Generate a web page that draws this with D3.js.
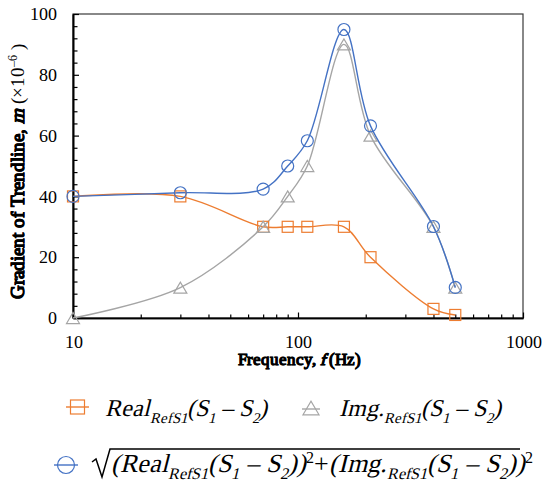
<!DOCTYPE html>
<html>
<head>
<meta charset="utf-8">
<script src="https://cdn.jsdelivr.net/npm/d3@7"></script>
<style>
  @font-face { font-family: "TSerif"; src: local("Liberation Serif"), local("LiberationSerif"), local("LiberationSerif-Regular"); font-style: normal; font-weight: 400; }
  html, body { margin: 0; padding: 0; background: #fff; }
  svg { display: block; }
</style>
</head>
<body>
<svg id="chart" width="543" height="488"></svg>
<script>
// ---- data ----
const frequencies = [10, 30, 70, 90, 110, 160, 210, 400, 500];
const realValues  = [40, 40, 30, 30, 30, 30, 20, 3, 1];
const imgValues   = [0, 10, 30, 40, 50, 90, 60, 30, 10];
const magValues   = [40, 41.2, 42.4, 50, 58.3, 94.9, 63.2, 30.1, 10.05];
const xMajorTicks = [10, 100, 1000];
const xMinorTicks = [20, 30, 40, 50, 60, 70, 80, 90, 200, 300, 400, 500, 600, 700, 800, 900];
const yMajorTicks = [0, 20, 40, 60, 80, 100];
const yMinorTicks = [4, 8, 12, 16, 24, 28, 32, 36, 44, 48, 52, 56, 64, 68, 72, 76, 84, 88, 92, 96];

const colors = { real: "#ED7D31", img: "#A5A5A5", mag: "#4472C4" };
const SERIF = "TSerif, 'Liberation Serif', serif";

const svg = d3.select("#chart");
const L = 73, R = 523, T = 14, B = 318;
const x = d3.scaleLog().domain([10, 1000]).range([L, R]);
const y = d3.scaleLinear().domain([0, 100]).range([B, T]);

// frame
svg.append("rect").attr("x", L).attr("y", T).attr("width", R - L).attr("height", B - T)
  .attr("fill", "none").attr("stroke", "#3a3a3a").attr("stroke-width", 1.2);

function styleAxis(g) {
  g.attr("font-family", null);
  g.selectAll("path.domain").attr("stroke", "#000").attr("stroke-width", 1.6);
  g.selectAll("line").attr("stroke", "#000").attr("stroke-width", 1.2);
  g.selectAll("text").attr("font-size", 18).attr("fill", "#000").style("font-family", SERIF);
}

// x axis
const gxMinor = svg.append("g").attr("transform", `translate(0,${B})`)
  .call(d3.axisBottom(x).tickValues(xMinorTicks).tickSize(-3.5).tickSizeOuter(0).tickFormat(() => ""));
const gxMajor = svg.append("g").attr("transform", `translate(0,${B})`)
  .call(d3.axisBottom(x).tickValues(xMajorTicks).tickSize(-5.5).tickSizeOuter(0)
    .tickPadding(17).tickFormat(d => String(d)));
styleAxis(gxMinor); styleAxis(gxMajor);

// y axis
const gyMinor = svg.append("g").attr("transform", `translate(${L},0)`)
  .call(d3.axisLeft(y).tickValues(yMinorTicks).tickSize(-4.5).tickSizeOuter(0).tickFormat(() => ""));
const gyMajor = svg.append("g").attr("transform", `translate(${L},0)`)
  .call(d3.axisLeft(y).tickValues(yMajorTicks).tickSize(-6).tickSizeOuter(0)
    .tickPadding(16).tickFormat(d => String(d)));
styleAxis(gyMinor); styleAxis(gyMajor);

// axis titles
const xt = svg.append("text").attr("x", 299).attr("y", 365).attr("text-anchor", "middle")
  .attr("font-size", 16.5).attr("font-weight", "bold").style("font-family", SERIF)
  .attr("stroke", "#000").attr("stroke-width", 0.4);
xt.append("tspan").text("Frequency, ");
xt.append("tspan").attr("font-style", "italic").text("f");
xt.append("tspan").text(" (Hz)");

const yt = svg.append("text").attr("transform", "translate(24,171) rotate(-90)")
  .attr("text-anchor", "middle").attr("font-size", 19).attr("font-weight", "bold")
  .style("font-family", SERIF).attr("stroke", "#000").attr("stroke-width", 0.4);
yt.append("tspan").text("Gradient of  Trendline, ");
yt.append("tspan").attr("font-style", "italic").text("m");
yt.append("tspan").attr("font-weight", "normal").attr("stroke-width", 0).text(" (\u00d710");
yt.append("tspan").attr("font-weight", "normal").attr("stroke-width", 0).attr("font-size", 12).attr("dy", -7).text("\u20136");
yt.append("tspan").attr("font-weight", "normal").attr("stroke-width", 0).attr("dy", 7).text(" )");

// series
const line = d3.line().x(d => x(d[0])).y(d => y(d[1])).curve(d3.curveCatmullRom.alpha(0.5));
const series = [
  { key: "real", vals: realValues, shape: "square" },
  { key: "img", vals: imgValues, shape: "triangle" },
  { key: "mag", vals: magValues, shape: "circle" }
];

function drawMarker(g, shape, cx, cy, size, color) {
  if (shape === "square") {
    g.append("rect").attr("x", cx - size / 2).attr("y", cy - size / 2)
      .attr("width", size).attr("height", size)
      .attr("fill", "none").attr("stroke", color).attr("stroke-width", 1.2);
  } else if (shape === "triangle") {
    const h = size * 0.85;
    g.append("path").attr("d",
      `M${cx - size / 2},${cy + h / 2}L${cx + size / 2},${cy + h / 2}L${cx},${cy - h / 2}Z`)
      .attr("fill", "none").attr("stroke", color).attr("stroke-width", 1.2);
  } else {
    g.append("circle").attr("cx", cx).attr("cy", cy).attr("r", size / 2)
      .attr("fill", "none").attr("stroke", color).attr("stroke-width", 1.2);
  }
}

series.forEach(s => {
  const pts = frequencies.map((f, i) => [f, s.vals[i]]);
  svg.append("path").datum(pts).attr("d", line).attr("fill", "none")
    .attr("stroke", colors[s.key]).attr("stroke-width", 1.4);
});
series.forEach(s => {
  const g = svg.append("g");
  frequencies.forEach((f, i) => {
    drawMarker(g, s.shape, x(f), y(s.vals[i]), s.shape === "circle" ? 12 : (s.shape === "triangle" ? 13 : 11), colors[s.key]);
  });
});

// ---- legend ----
function richText(parent, xPos, yPos, parts, size) {
  const t = parent.append("text").attr("x", xPos).attr("y", yPos)
    .attr("font-size", size).attr("font-style", "italic").attr("fill", "#000")
    .style("font-family", SERIF);
  let shift = 0;
  parts.forEach(p => {
    const sp = t.append("tspan").text(p.t);
    let target = 0, fs = size;
    if (p.k === "sub") { target = size * 0.28; fs = size * 0.62; }
    if (p.k === "sup") { target = -size * 0.36; fs = size * 0.62; }
    sp.attr("dy", target - shift).attr("font-size", fs);
    if (p.up) sp.attr("font-style", "normal");
    shift = target;
  });
  return t;
}

const lg = svg.append("g");
const seg = (t, k) => ({ t, k });
// row 1: Real
lg.append("line").attr("x1", 66).attr("x2", 89).attr("y1", 407).attr("y2", 407)
  .attr("stroke", colors.real).attr("stroke-width", 1.4);
drawMarker(lg, "square", 77.5, 407, 14, colors.real);
richText(lg, 105, 416, [
  seg("Real"), seg("RefS1", "sub"), seg("(S"), seg("1", "sub"), seg(" \u2013 S"), seg("2", "sub"), seg(")")
], 24);

// row 1: Img
lg.append("line").attr("x1", 302).attr("x2", 320).attr("y1", 409).attr("y2", 409)
  .attr("stroke", colors.img).attr("stroke-width", 1.4);
drawMarker(lg, "triangle", 311, 408, 16, colors.img);
richText(lg, 339, 416, [
  seg("Img."), seg("RefS1", "sub"), seg("(S"), seg("1", "sub"), seg(" \u2013 S"), seg("2", "sub"), seg(")")
], 24);

// row 2: magnitude
lg.append("line").attr("x1", 54).attr("x2", 78).attr("y1", 465).attr("y2", 465)
  .attr("stroke", colors.mag).attr("stroke-width", 1.4);
drawMarker(lg, "circle", 66, 465, 17, colors.mag);
const magText = richText(lg, 111, 472, [
  seg("(Real"), seg("RefS1", "sub"), seg("(S"), seg("1", "sub"), seg(" \u2013 S"), seg("2", "sub"), seg("))"),
  { t: "2", k: "sup", up: true }, { t: "+", up: true }, seg("(Img."), seg("RefS1", "sub"), seg("(S"), seg("1", "sub"),
  seg(" \u2013 S"), seg("2", "sub"), seg("))"), { t: "2", k: "sup", up: true }
], 26);
const bb = magText.node().getBBox();
lg.append("path")
  .attr("d", `M92,462L96,459L102,477L110,449L${bb.x + bb.width - 13},449`)
  .attr("fill", "none").attr("stroke", "#000").attr("stroke-width", 1.5);
</script>
</body>
</html>
